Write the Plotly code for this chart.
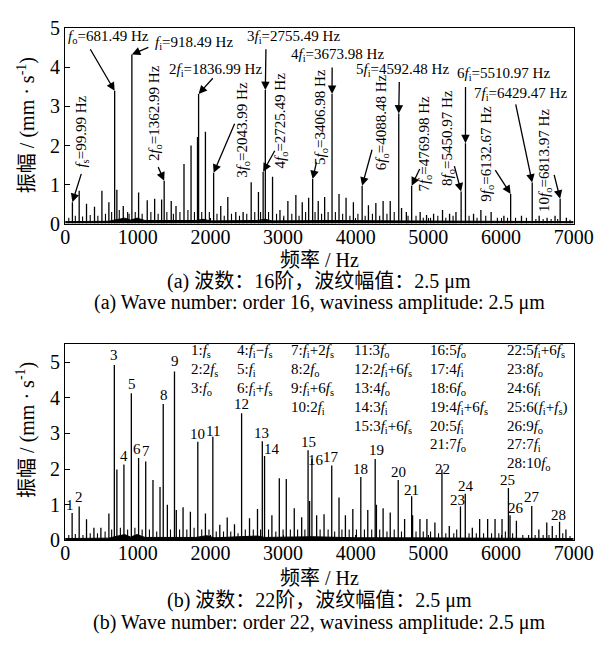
import plotly.graph_objects as go

W, H = 616, 655
SERIF = "Liberation Serif, Noto Sans CJK SC, serif"

# ---------------- Panel (a): wave number 16 ----------------
a_peaks = [(100, 0.55), (193, 0.84), (294, 0.51), (404, 0.43), (506, 0.84), (602, 0.55),
           (681.49, 3.40), (712, 0.87), (800, 0.45), (918.49, 4.33), (1011, 0.80), (1130, 0.60),
           (1232, 0.64), (1328, 0.62), (1362.99, 1.10), (1460, 0.58), (1526, 0.45), (1636, 1.53),
           (1733, 2.00), (1822, 2.22), (1836.99, 3.32), (1931, 2.35), (2043.99, 1.30), (2142, 0.45),
           (2239, 0.68), (2349, 0.30), (2450, 0.30), (2561, 1.06), (2661, 0.81), (2725.49, 1.33),
           (2755.49, 3.42), (2855, 1.20), (2957, 0.35), (3066, 0.58), (3176, 0.73), (3264, 0.55),
           (3352, 0.66), (3406.98, 1.14), (3484, 0.58), (3572, 0.68), (3673.98, 3.32), (3770, 0.76),
           (3867, 0.66), (3968, 0.55), (4088.48, 0.97), (4175, 0.47), (4277, 0.53), (4377, 0.58),
           (4475, 0.58), (4592.48, 2.82), (4631, 0.40), (4697, 0.30), (4769.98, 0.97), (4887, 0.30),
           (4975, 0.22), (5072, 0.25), (5195, 0.35), (5292, 0.25), (5380, 0.30), (5450.97, 0.82),
           (5510.97, 2.06), (5622, 0.25), (5723, 0.35), (5864, 0.30), (6040, 0.20), (6132.67, 0.76),
           (6282, 0.20), (6429.47, 1.05), (6525, 0.20), (6634, 0.15), (6744, 0.20), (6813.97, 0.64),
           (6900, 0.15)]
a_minor = [(50, 0.15), (140, 0.20), (240, 0.18), (345, 0.22), (450, 0.20), (555, 0.25), (640, 0.30),
           (745, 0.35), (860, 0.30), (880, 0.25), (965, 0.30), (1060, 0.25), (1180, 0.30), (1280, 0.25),
           (1400, 0.30), (1490, 0.25), (1580, 0.30), (1690, 0.35), (1780, 0.30), (1880, 0.30),
           (1985, 0.30), (2090, 0.25), (2190, 0.20), (2290, 0.25), (2400, 0.20), (2500, 0.25),
           (2610, 0.30), (2690, 0.30), (2800, 0.30), (2910, 0.25), (3010, 0.20), (3120, 0.25),
           (3220, 0.20), (3310, 0.30), (3440, 0.30), (3530, 0.25), (3620, 0.30), (3720, 0.30),
           (3820, 0.25), (3920, 0.20), (4030, 0.25), (4130, 0.20), (4230, 0.25), (4330, 0.20),
           (4430, 0.25), (4530, 0.30), (4720, 0.20), (4830, 0.20), (4930, 0.15), (5030, 0.15),
           (5130, 0.20), (5240, 0.15), (5340, 0.20), (5560, 0.20), (5670, 0.15), (5790, 0.20),
           (5950, 0.15), (6090, 0.15), (6200, 0.15), (6350, 0.15), (6480, 0.12), (6580, 0.12),
           (6690, 0.12), (6780, 0.12), (6950, 0.10)]
a_floor = [(0, 0.05), (600, 0.06), (700, 0.10), (820, 0.14), (900, 0.09), (990, 0.14), (1100, 0.08),
           (1800, 0.08), (1900, 0.11), (2000, 0.07), (2650, 0.08), (2750, 0.11), (2850, 0.07),
           (3400, 0.08), (3700, 0.08), (4600, 0.07), (5500, 0.06), (7000, 0.05)]

# ---------------- Panel (b): wave number 22 ----------------
b_peaks = [(96, 0.77), (193, 0.95), (294, 0.59), (396, 0.35), (492, 0.35), (602, 0.75),
           (677, 4.92), (712, 1.99), (809, 2.13), (911, 4.13), (1011, 2.31), (1109, 2.21),
           (1209, 1.69), (1306, 1.50), (1350, 3.83), (1407, 1.00), (1505, 4.74), (1530, 0.85),
           (1623, 0.93), (1724, 0.80), (1826, 2.77), (1931, 0.75), (2033, 2.91), (2129, 0.44),
           (2231, 0.64), (2331, 0.45), (2429, 3.57), (2538, 0.62), (2648, 0.88), (2714, 2.78),
           (2745, 2.37), (2846, 0.70), (2948, 1.74), (3044, 1.72), (3154, 0.90), (3256, 0.65),
           (3344, 2.53), (3365, 1.10), (3397, 2.28), (3462, 0.70), (3564, 0.73), (3670, 2.10),
           (3770, 1.20), (3858, 0.70), (3960, 0.88), (4070, 1.78), (4166, 0.85), (4268, 2.28),
           (4285, 1.00), (4377, 0.90), (4475, 0.78), (4585, 1.69), (4673, 0.60), (4770, 1.24),
           (4783, 0.70), (4884, 0.60), (4980, 0.60), (5090, 0.50), (5187, 1.99), (5288, 0.40),
           (5442, 0.95), (5508, 1.31), (5605, 0.35), (5706, 0.60), (5816, 0.60), (5918, 0.60),
           (6014, 0.60), (6102, 1.47), (6124, 0.70), (6212, 0.55), (6423, 0.96), (6521, 0.30),
           (6630, 0.50), (6706, 0.40), (6806, 0.52), (6894, 0.30)]
b_minor = [(50, 0.15), (140, 0.18), (245, 0.15), (345, 0.20), (445, 0.20), (550, 0.25), (640, 0.30),
           (760, 0.35), (860, 0.30), (960, 0.35), (1060, 0.30), (1160, 0.30), (1260, 0.25),
           (1450, 0.30), (1575, 0.30), (1675, 0.30), (1775, 0.35), (1880, 0.30), (1980, 0.30),
           (2080, 0.25), (2180, 0.25), (2280, 0.25), (2380, 0.20), (2480, 0.30), (2590, 0.30),
           (2690, 0.30), (2800, 0.30), (2900, 0.25), (3000, 0.30), (3100, 0.30), (3200, 0.30),
           (3300, 0.30), (3510, 0.30), (3620, 0.30), (3710, 0.25), (3810, 0.30), (3910, 0.30),
           (4010, 0.30), (4120, 0.30), (4220, 0.30), (4330, 0.30), (4430, 0.25), (4530, 0.30),
           (4630, 0.25), (4830, 0.25), (4930, 0.25), (5030, 0.25), (5140, 0.20), (5240, 0.20),
           (5350, 0.20), (5390, 0.30), (5560, 0.20), (5660, 0.20), (5760, 0.20), (5870, 0.20),
           (5970, 0.20), (6060, 0.25), (6160, 0.20), (6300, 0.15), (6380, 0.15), (6470, 0.15),
           (6580, 0.15), (6660, 0.15), (6760, 0.15), (6850, 0.20), (6950, 0.12)]
b_floor = [(0, 0.05), (600, 0.06), (700, 0.11), (820, 0.16), (900, 0.09), (990, 0.16), (1100, 0.08),
           (1800, 0.08), (1950, 0.13), (2050, 0.07), (2650, 0.12), (2750, 0.08), (3400, 0.10),
           (3700, 0.08), (4000, 0.07), (4600, 0.07), (5500, 0.06), (7000, 0.05)]

x_ticks = [0, 1000, 2000, 3000, 4000, 5000, 6000, 7000]
x_title = "频率 / Hz"
y_title = "振幅 / (mm · s<sup>-1</sup>)"
cap_a_cn = "(a) 波数：16阶，波纹幅值：2.5 μm"
cap_a_en = "(a) Wave number: order 16, waviness amplitude: 2.5 μm"
cap_b_cn = "(b) 波数：22阶，波纹幅值：2.5 μm"
cap_b_en = "(b) Wave number: order 22, waviness amplitude: 2.5 μm"

F = lambda s: "<i>f</i><sub>" + s + "</sub>"

# labels for panel (a): (text, peak freq, peak amp, text centre px, arrow tail px, rotated)
a_labels = [
    (F("o") + "=681.49 Hz", 681.49, 3.40, (108, 27), (88, 38), False),
    (F("i") + "=918.49 Hz", 918.49, 4.33, (197, 33), (151, 37), False),
    ("3" + F("i") + "=2755.49 Hz", 2755.49, 3.42, (301, 27), (272, 38), False),
    ("4" + F("i") + "=3673.98 Hz", 3673.98, 3.32, (347, 46), (341, 57), False),
    ("2" + F("i") + "=1836.99 Hz", 1836.99, 3.32, (219, 61), (218, 68), False),
    ("5" + F("i") + "=4592.48 Hz", 4592.48, 2.82, (414, 61), (411, 72), False),
    ("6" + F("i") + "=5510.97 Hz", 5510.97, 2.06, (520, 65), (480, 77), False),
    ("7" + F("i") + "=6429.47 Hz", 6429.47, 1.05, (537, 86), (532, 95), False),
    (F("s") + "=99.99 Hz", 100, 0.55, (80, 125), (80, 167), True),
    ("2" + F("o") + "=1362.99 Hz", 1362.99, 1.10, (157, 106), (159, 160), True),
    ("3" + F("o") + "=2043.99 Hz", 2043.99, 1.30, (248, 123), (240, 115), True),
    ("4" + F("o") + "=2725.49 Hz", 2725.49, 1.33, (288, 113), (282, 143), True),
    ("5" + F("o") + "=3406.98 Hz", 3406.98, 1.14, (330, 110), (325, 155), True),
    ("6" + F("o") + "=4088.48 Hz", 4088.48, 0.97, (393, 115), (383, 142), True),
    ("7" + F("o") + "=4769.98 Hz", 4769.98, 0.97, (438, 137), (433, 162), True),
    ("8" + F("o") + "=5450.97 Hz", 5450.97, 0.82, (461, 131), (468, 159), True),
    ("9" + F("o") + "=6132.67 Hz", 6132.67, 0.76, (502, 148), (510, 163), True),
    ("10" + F("o") + "=6813.97 Hz", 6813.97, 0.64, (563, 155), (572, 168), True),
]

# panel (b) peak number labels: (number, centre px)
b_nums = [("1", (68, 511)), ("2", (77, 503)), ("3", (114, 356)), ("4", (124, 460)),
          ("5", (132, 386)), ("6", (138, 453)), ("7", (147, 455)), ("8", (166, 397)),
          ("9", (177, 362)), ("10", (201, 438)), ("11", (217, 435)), ("12", (247, 407)),
          ("13", (267, 437)), ("14", (278, 453)), ("15", (316, 446)), ("16", (324, 465)),
          ("17", (340, 462)), ("18", (371, 474)), ("19", (387, 454)), ("20", (410, 477)),
          ("21", (424, 496)), ("22", (456, 474)), ("23", (472, 506)), ("24", (480, 491)),
          ("25", (524, 485)), ("26", (533, 514)), ("27", (549, 503)), ("28", (577, 521))]

b_key = [
    ["1:" + F("s"), "2:2" + F("s"), "3:" + F("o")],
    ["4:" + F("i") + "−" + F("s"), "5:" + F("i"), "6:" + F("i") + "+" + F("s")],
    ["7:" + F("i") + "+2" + F("s"), "8:2" + F("o"), "9:" + F("i") + "+6" + F("s"), "10:2" + F("i")],
    ["11:3" + F("o"), "12:2" + F("i") + "+6" + F("s"), "13:4" + F("o"), "14:3" + F("i"),
     "15:3" + F("i") + "+6" + F("s")],
    ["16:5" + F("o"), "17:4" + F("i"), "18:6" + F("o"), "19:4" + F("i") + "+6" + F("s"),
     "20:5" + F("i"), "21:7" + F("o")],
    ["22:5" + F("i") + "+6" + F("s"), "23:8" + F("o"), "24:6" + F("i"),
     "25:6(" + F("i") + "+" + F("s") + ")", "26:9" + F("o"), "27:7" + F("i"), "28:10" + F("o")],
]
b_key_x = [192, 240, 296, 362, 441, 521]

# ---------------- geometry ----------------
X0, X1 = 62.7, 592.7
A_TOP, A_BOT = 18.0, 220.0
B_TOP, B_BOT = 345.0, 547.7
px = lambda x: x / W
py = lambda y: 1 - y / H


def stems(pairs):
    xs, ys = [], []
    for f, a in pairs:
        xs += [f, f, None]
        ys += [0, a, None]
    return xs, ys


fig = go.Figure()
for suffix, floor, minor, peaks in [("", a_floor, a_minor, a_peaks), ("2", b_floor, b_minor, b_peaks)]:
    fig.add_trace(go.Scatter(x=[p[0] for p in floor], y=[p[1] for p in floor], mode="lines",
                             fill="tozeroy", fillcolor="black", line=dict(color="black", width=1),
                             xaxis="x" + suffix, yaxis="y" + suffix, hoverinfo="skip"))
    mx, my = stems(minor)
    fig.add_trace(go.Scatter(x=mx, y=my, mode="lines", line=dict(color="black", width=1.1),
                             xaxis="x" + suffix, yaxis="y" + suffix))
    sx, sy = stems(peaks)
    fig.add_trace(go.Scatter(x=sx, y=sy, mode="lines", line=dict(color="black", width=1.3),
                             xaxis="x" + suffix, yaxis="y" + suffix))

ann = []
# panel (a) arrows and labels
for text, f, a, (tx, ty), (ax_, ay_), rot in a_labels:
    tail_f = (ax_ - X0) / (X1 - X0) * 7000
    tail_a = (A_BOT - ay_) / (A_BOT - A_TOP) * 5
    ann.append(dict(x=f, y=a, xref="x", yref="y", ax=tail_f, ay=tail_a, axref="x", ayref="y",
                    text="", showarrow=True, arrowhead=2, arrowsize=1.3, arrowwidth=1.3,
                    arrowcolor="black", standoff=0, startstandoff=0))
    ann.append(dict(x=px(tx), y=py(ty), xref="paper", yref="paper", text=text, showarrow=False,
                    textangle=-90 if rot else 0, xanchor="center", yanchor="middle",
                    font=dict(family=SERIF, size=15, color="black")))
# panel (b) number labels
for t, (tx, ty) in b_nums:
    ann.append(dict(x=px(tx), y=py(ty), xref="paper", yref="paper", text=t, showarrow=False,
                    xanchor="center", yanchor="middle", font=dict(family=SERIF, size=15, color="black")))
# panel (b) key
for col, cx in zip(b_key, b_key_x):
    for i, t in enumerate(col):
        ann.append(dict(x=px(cx), y=py(352 + i * 19.5), xref="paper", yref="paper", text=t,
                        showarrow=False, xanchor="left", yanchor="middle",
                        font=dict(family=SERIF, size=15, color="black")))
# titles and captions
for yc in [(A_TOP + A_BOT) / 2 - 1, (B_TOP + B_BOT) / 2 - 13]:
    ann.append(dict(x=px(22), y=py(yc), xref="paper", yref="paper", text=y_title, showarrow=False,
                    textangle=-90, xanchor="center", yanchor="middle",
                    font=dict(family=SERIF, size=20, color="black")))
cx = px((X0 + X1) / 2)
for t, yc in [(x_title, 258), (cap_a_cn, 280), (cap_a_en, 302),
              (x_title, 587), (cap_b_cn, 610), (cap_b_en, 633)]:
    ann.append(dict(x=cx, y=py(yc), xref="paper", yref="paper", text=t, showarrow=False,
                    xanchor="center", yanchor="middle", font=dict(family=SERIF, size=20, color="black")))

axis_common = dict(showline=True, mirror=True, linecolor="black", linewidth=1.3, ticks="inside",
                   ticklen=5, tickcolor="black", showgrid=False, zeroline=False,
                   tickfont=dict(family=SERIF, size=20, color="black"))
fig.update_layout(
    width=W, height=H, margin=dict(l=0, r=0, t=0, b=0), showlegend=False,
    paper_bgcolor="white", plot_bgcolor="white", annotations=ann,
    xaxis=dict(domain=[px(X0), px(X1)], anchor="y", range=[0, 7000], tickvals=x_ticks,
               ticklabelstandoff=-5, **axis_common),
    yaxis=dict(domain=[py(A_BOT), py(A_TOP)], anchor="x", range=[0, 5], dtick=1, **axis_common),
    xaxis2=dict(domain=[px(X0), px(X1)], anchor="y2", range=[0, 7000], tickvals=x_ticks,
                ticklabelstandoff=-5, **axis_common),
    yaxis2=dict(domain=[py(B_BOT), py(B_TOP)], anchor="x2", range=[0, 5.5], dtick=1, **axis_common),
)
fig.write_html("out.html")
